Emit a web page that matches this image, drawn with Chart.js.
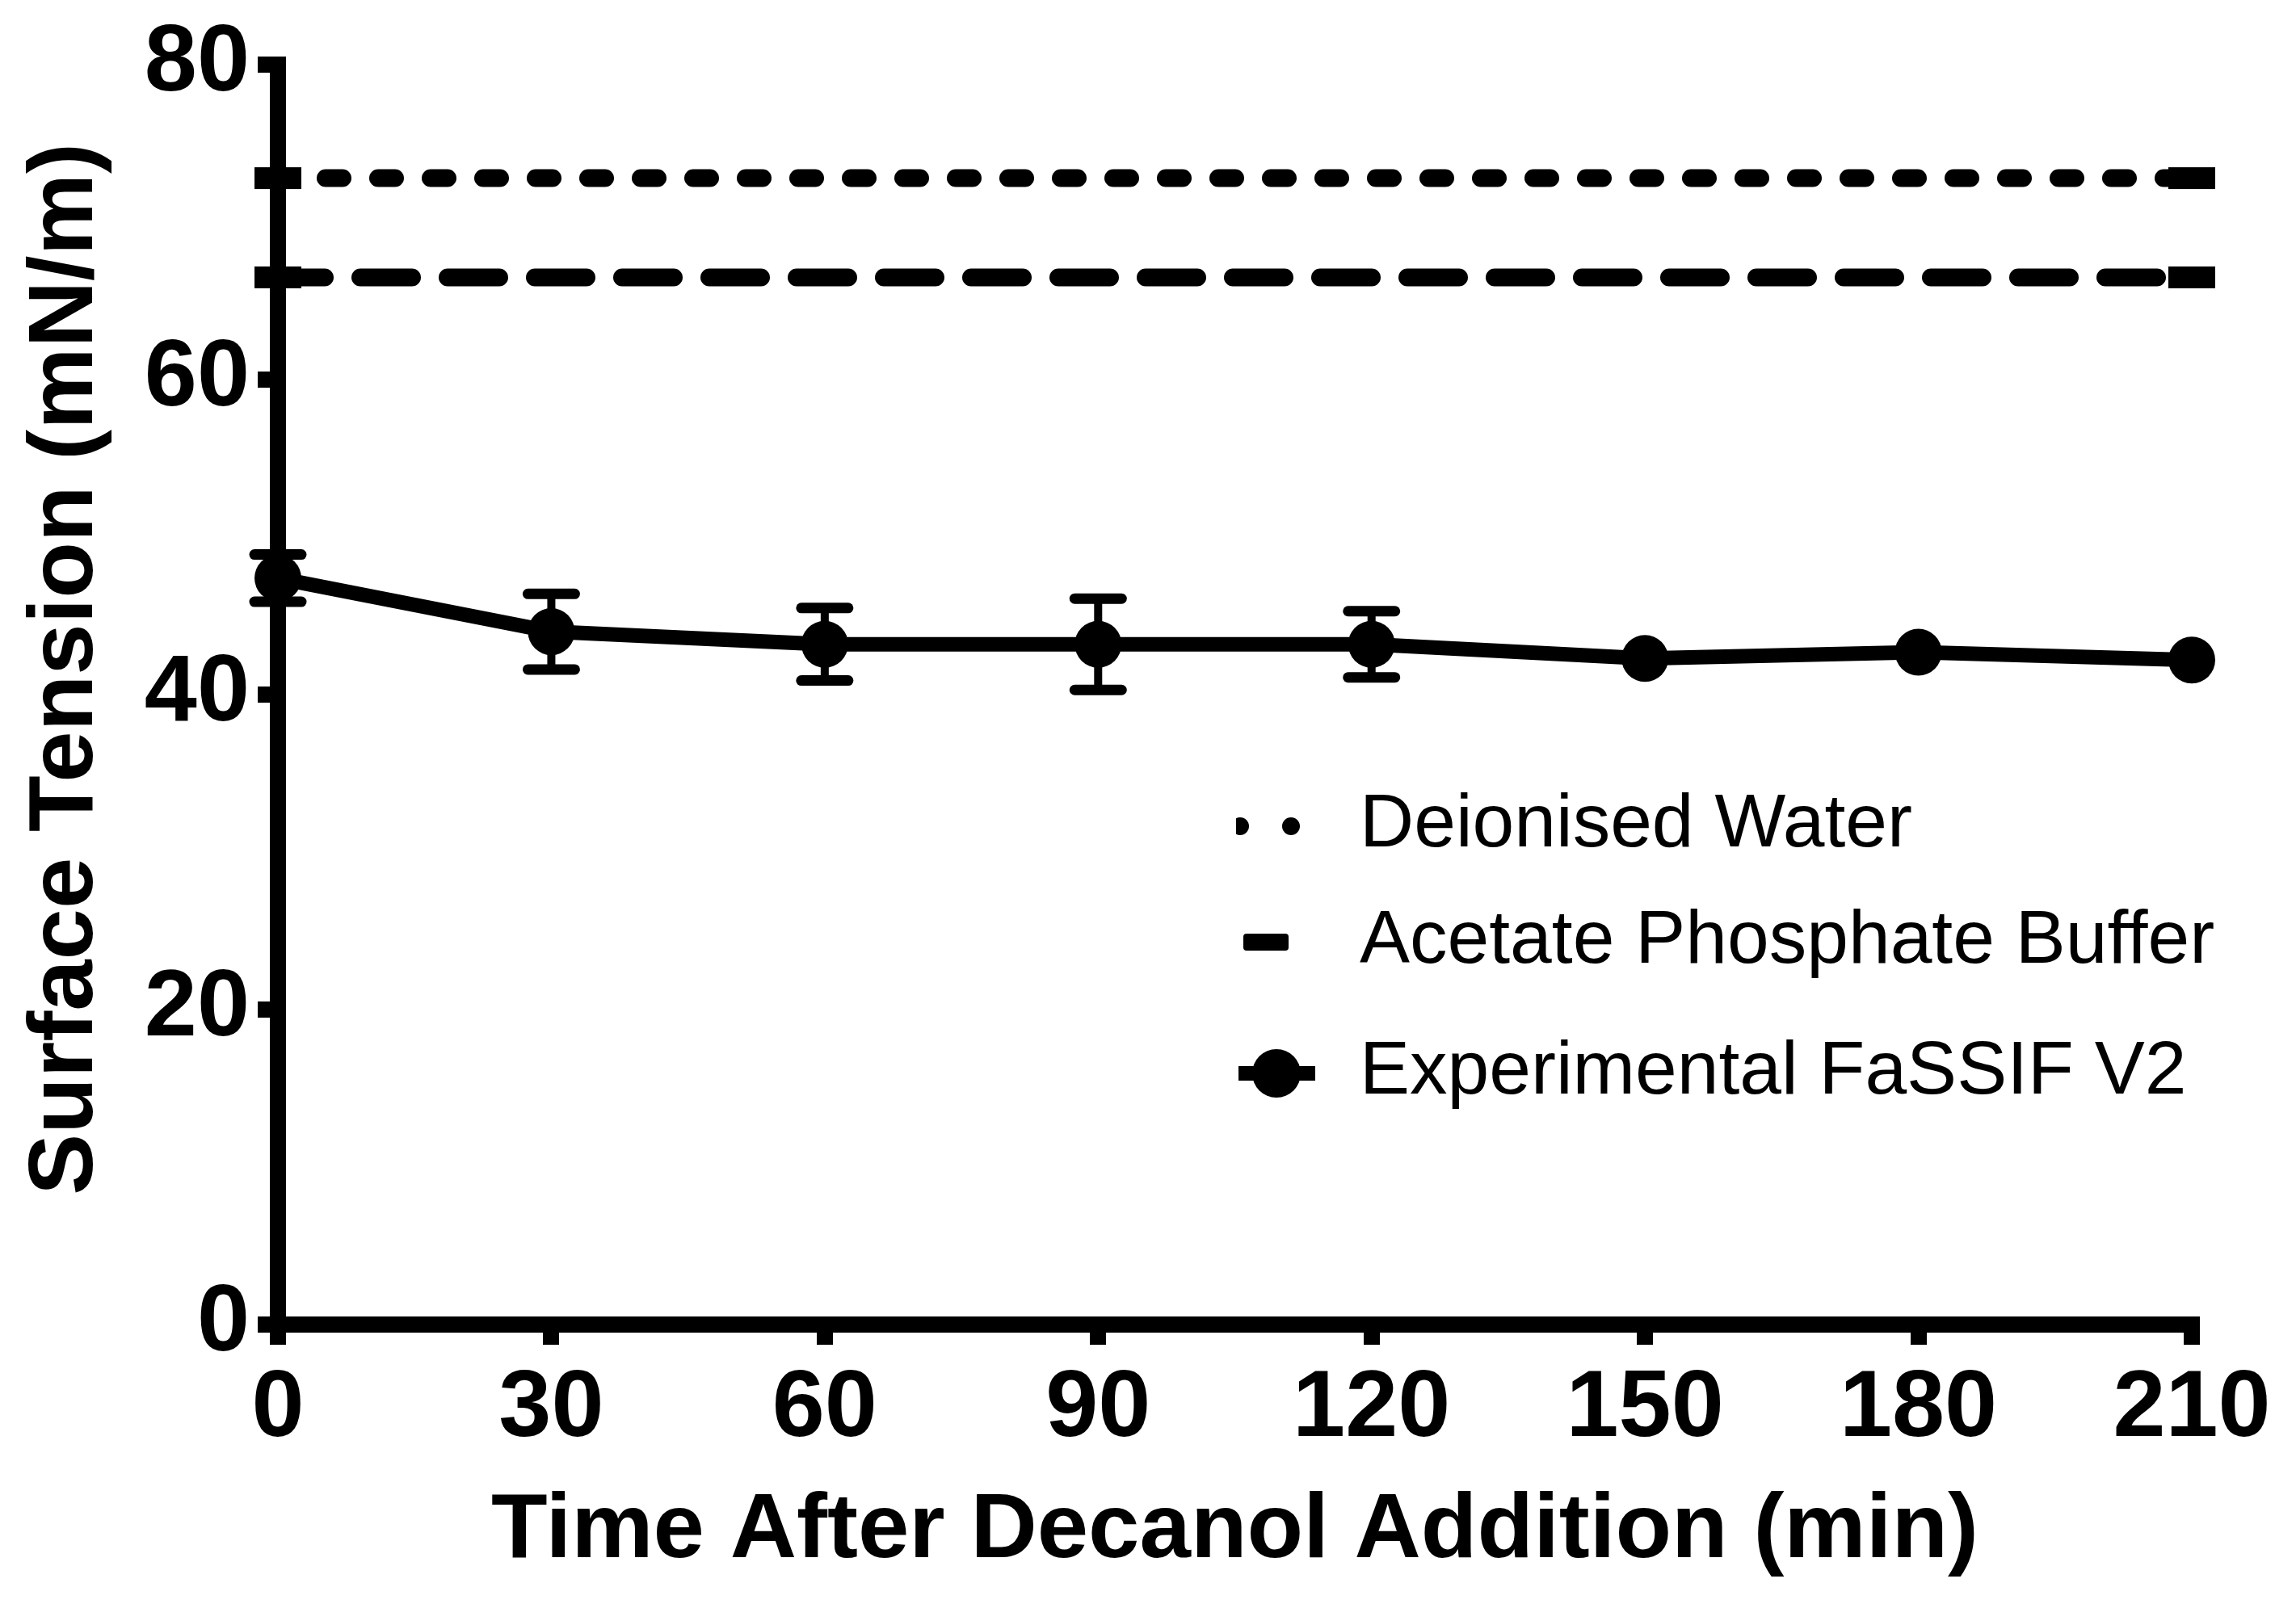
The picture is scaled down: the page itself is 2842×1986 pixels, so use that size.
<!DOCTYPE html>
<html>
<head>
<meta charset="utf-8">
<script src="https://cdn.jsdelivr.net/npm/chart.js@4.4.1/dist/chart.umd.min.js"></script>
<style>
  html, body { margin: 0; padding: 0; background: #fff; }
  #wrap { width: 2842px; height: 1986px; }
</style>
</head>
<body>
<div id="wrap"><canvas id="tensionChart" width="2842" height="1986"></canvas></div>
<script>
// values
const timePoints = [0, 30, 60, 90, 120, 150, 180, 210];
const fassifMean = [47.4, 44.0, 43.2, 43.2, 43.2, 42.3, 42.7, 42.2];
const fassifSd = [1.5, 2.4, 2.3, 2.9, 2.1, null, null, null];
const waterTension = 72.8;
const bufferTension = 66.5;
const xTicks = [0, 30, 60, 90, 120, 150, 180, 210];
const yTicks = [0, 20, 40, 60, 80];
const seriesNames = ['Deionised Water', 'Acetate Phosphate Buffer', 'Experimental FaSSIF V2'];

const tickFont = { family: "'Liberation Sans', Arial, sans-serif", size: 117, weight: 'bold' };
const titleFont = { family: "'Liberation Sans', Arial, sans-serif", size: 114, weight: 'bold' };
const legendFont = "93px 'Liberation Sans', Arial, sans-serif";

// square blocks at both ends of the reference lines + error bars
const extras = {
    id: 'extras',
    afterDatasetsDraw(chart) {
        const { ctx, scales: { x, y } } = chart;
        ctx.save();
        ctx.fillStyle = '#000';
        ctx.strokeStyle = '#000';
        [waterTension, bufferTension].forEach(v => {
            const py = y.getPixelForValue(v);
            [xTicks[0], xTicks[xTicks.length - 1]].forEach(t => {
                const px = x.getPixelForValue(t);
                ctx.fillRect(px - 29, py - 13.5, 58, 27);
            });
        });

        timePoints.forEach((t, i) => {
            const sd = fassifSd[i];
            if (!sd) return;
            const px = x.getPixelForValue(t);
            const top = y.getPixelForValue(fassifMean[i] + sd);
            const bot = y.getPixelForValue(fassifMean[i] - sd);
            ctx.lineWidth = 10;
            ctx.lineCap = 'butt';
            ctx.beginPath();
            ctx.moveTo(px, top);
            ctx.lineTo(px, bot);
            ctx.stroke();
            ctx.lineWidth = 13;
            ctx.lineCap = 'round';
            [top, bot].forEach(py => {
                ctx.beginPath();
                ctx.moveTo(px - 29, py);
                ctx.lineTo(px + 29, py);
                ctx.stroke();
            });
        });
        ctx.restore();
    }
};

// legend drawn inside the plot
const legendPos = { textX: 1683, rows: [1022, 1166, 1328] };
const insideLegend = {
    id: 'insideLegend',
    afterDraw(chart) {
        const ctx = chart.ctx;
        const r = legendPos.rows;
        ctx.save();
        ctx.fillStyle = '#000';
        ctx.strokeStyle = '#000';

        // dotted sample
        ctx.save();
        ctx.beginPath();
        ctx.rect(1530, r[0] - 20, 100, 40);
        ctx.clip();
        [1535, 1598].forEach(cx => {
            ctx.beginPath();
            ctx.arc(cx, r[0] + 1, 11, 0, Math.PI * 2);
            ctx.fill();
        });
        ctx.restore();

        // dash sample
        ctx.beginPath();
        ctx.roundRect(1539, r[1] - 10, 56, 21, 4);
        ctx.fill();

        // line + circle sample
        ctx.lineWidth = 18;
        ctx.beginPath();
        ctx.moveTo(1533, r[2] + 1);
        ctx.lineTo(1628, r[2] + 1);
        ctx.stroke();
        ctx.beginPath();
        ctx.arc(1580, r[2] + 1, 30, 0, Math.PI * 2);
        ctx.fill();

        ctx.font = legendFont;
        ctx.textBaseline = 'middle';
        seriesNames.forEach((name, i) => {
            ctx.fillText(name, legendPos.textX, r[i]);
        });
        ctx.restore();
    }
};

const ctx = document.getElementById('tensionChart').getContext('2d');
new Chart(ctx, {
    type: 'line',
    data: {
        datasets: [
            {
                label: seriesNames[0],
                data: [{ x: xTicks[0], y: waterTension }, { x: xTicks[xTicks.length - 1], y: waterTension }],
                borderColor: '#000',
                borderWidth: 22,
                borderDash: [21, 44],
                borderDashOffset: 6,
                borderCapStyle: 'round',
                pointRadius: 0,
                clip: false
            },
            {
                label: seriesNames[1],
                data: [{ x: xTicks[0], y: bufferTension }, { x: xTicks[xTicks.length - 1], y: bufferTension }],
                borderColor: '#000',
                borderWidth: 22,
                borderDash: [64, 44],
                borderDashOffset: 6,
                borderCapStyle: 'round',
                pointRadius: 0,
                clip: false
            },
            {
                label: seriesNames[2],
                data: timePoints.map((t, i) => ({ x: t, y: fassifMean[i] })),
                borderColor: '#000',
                backgroundColor: '#000',
                borderWidth: 18,
                pointRadius: 29,
                pointBorderWidth: 0,
                pointBackgroundColor: '#000',
                tension: 0,
                clip: false
            }
        ]
    },
    options: {
        responsive: false,
        animation: false,
        devicePixelRatio: 1,
        layout: { padding: { left: 0, right: 129, top: 72, bottom: 0 } },
        plugins: {
            legend: { display: false },
            tooltip: { enabled: false }
        },
        scales: {
            x: {
                type: 'linear',
                min: 0,
                max: 210,
                afterBuildTicks: s => { s.ticks = xTicks.map(v => ({ value: v })); },
                afterFit: s => { s.height = 346; },
                border: { display: true, color: '#000', width: 20 },
                grid: { drawOnChartArea: false, drawTicks: true, tickLength: 25, tickWidth: 20, lineWidth: 20, tickColor: '#000', color: '#000' },
                ticks: { color: '#000', font: tickFont, padding: 11, maxRotation: 0, autoSkip: false },
                title: { display: true, text: 'Time After Decanol Addition (min)', color: '#000', font: titleFont, padding: { top: 0, bottom: 21 } }
            },
            y: {
                min: 0,
                max: 80,
                afterBuildTicks: s => { s.ticks = yTicks.map(v => ({ value: v })); },
                afterFit: s => { s.width = 344; },
                border: { display: true, color: '#000', width: 20 },
                grid: { drawOnChartArea: false, drawTicks: true, tickLength: 25, tickWidth: 20, lineWidth: 20, tickColor: '#000', color: '#000' },
                ticks: { color: '#000', font: tickFont, padding: 10 },
                // two leading spaces nudge the rotated title up to where it sits in the figure
                title: { display: true, text: '  Surface Tension (mN/m)', color: '#000', font: titleFont, padding: { top: 14, bottom: 0 } }
            }
        }
    },
    plugins: [extras, insideLegend]
});
</script>
</body>
</html>
